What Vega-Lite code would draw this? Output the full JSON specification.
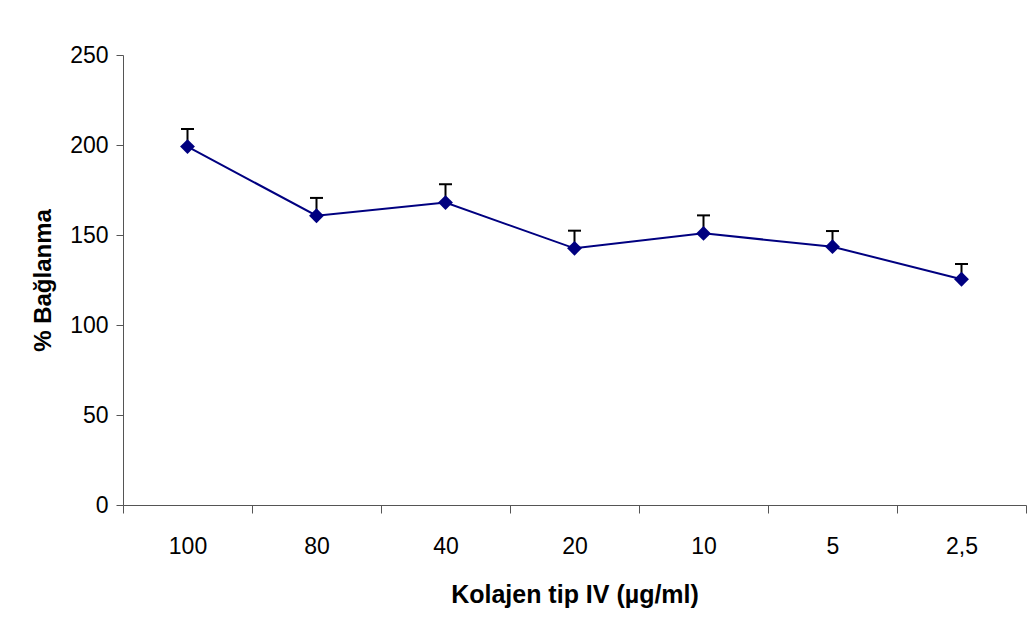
{
  "$schema": "https://vega.github.io/schema/vega-lite/v6.json",
  "width": 903,
  "height": 450,
  "autosize": {"type": "none"},
  "padding": {"left": 123, "top": 55, "right": 8, "bottom": 137},
  "background": "white",
  "config": {
    "view": {"stroke": null},
    "font": "Liberation Sans"
  },
  "data": {
    "values": [
      {"conc": "100", "value": 199.1, "upper": 208.9},
      {"conc": "80", "value": 160.7, "upper": 170.6},
      {"conc": "40", "value": 168.0, "upper": 178.2},
      {"conc": "20", "value": 142.6, "upper": 152.4},
      {"conc": "10", "value": 150.9, "upper": 160.9},
      {"conc": "5", "value": 143.5, "upper": 152.2},
      {"conc": "2,5", "value": 125.4, "upper": 133.9}
    ]
  },
  "encoding": {
    "x": {
      "field": "conc",
      "type": "nominal",
      "sort": null,
      "scale": {"paddingInner": 0, "paddingOuter": 0},
      "axis": {
        "title": "Kolajen tip IV (µg/ml)",
        "labelAngle": 0,
        "labelFontSize": 23,
        "labelColor": "black",
        "labelPadding": 22,
        "tickBand": "extent",
        "tickSize": 8,
        "tickColor": "#555555",
        "domainColor": "#555555",
        "titleFontSize": 25,
        "titleFontWeight": "bold",
        "titleColor": "black",
        "titlePadding": 24
      }
    }
  },
  "layer": [
    {
      "mark": {"type": "rule", "color": "black", "strokeWidth": 2},
      "encoding": {
        "y": {"field": "value", "type": "quantitative"},
        "y2": {"field": "upper"}
      }
    },
    {
      "mark": {"type": "tick", "color": "black", "thickness": 2, "size": 13, "opacity": 1},
      "encoding": {
        "y": {"field": "upper", "type": "quantitative"}
      }
    },
    {
      "mark": {"type": "line", "color": "#000080", "strokeWidth": 2},
      "encoding": {
        "y": {
          "field": "value",
          "type": "quantitative",
          "scale": {"domain": [0, 250], "nice": false},
          "axis": {
            "title": "% Bağlanma",
            "values": [0, 50, 100, 150, 200, 250],
            "grid": false,
            "labelFontSize": 23,
            "labelColor": "black",
            "labelPadding": 8,
            "tickSize": 7,
            "tickColor": "#555555",
            "domainColor": "#555555",
            "titleFontSize": 24,
            "titleFontWeight": "bold",
            "titleColor": "black",
            "titlePadding": 14
          }
        }
      }
    },
    {
      "mark": {"type": "point", "shape": "diamond", "filled": true, "color": "#000080", "size": 220, "opacity": 1},
      "encoding": {
        "y": {"field": "value", "type": "quantitative"}
      }
    }
  ]
}
